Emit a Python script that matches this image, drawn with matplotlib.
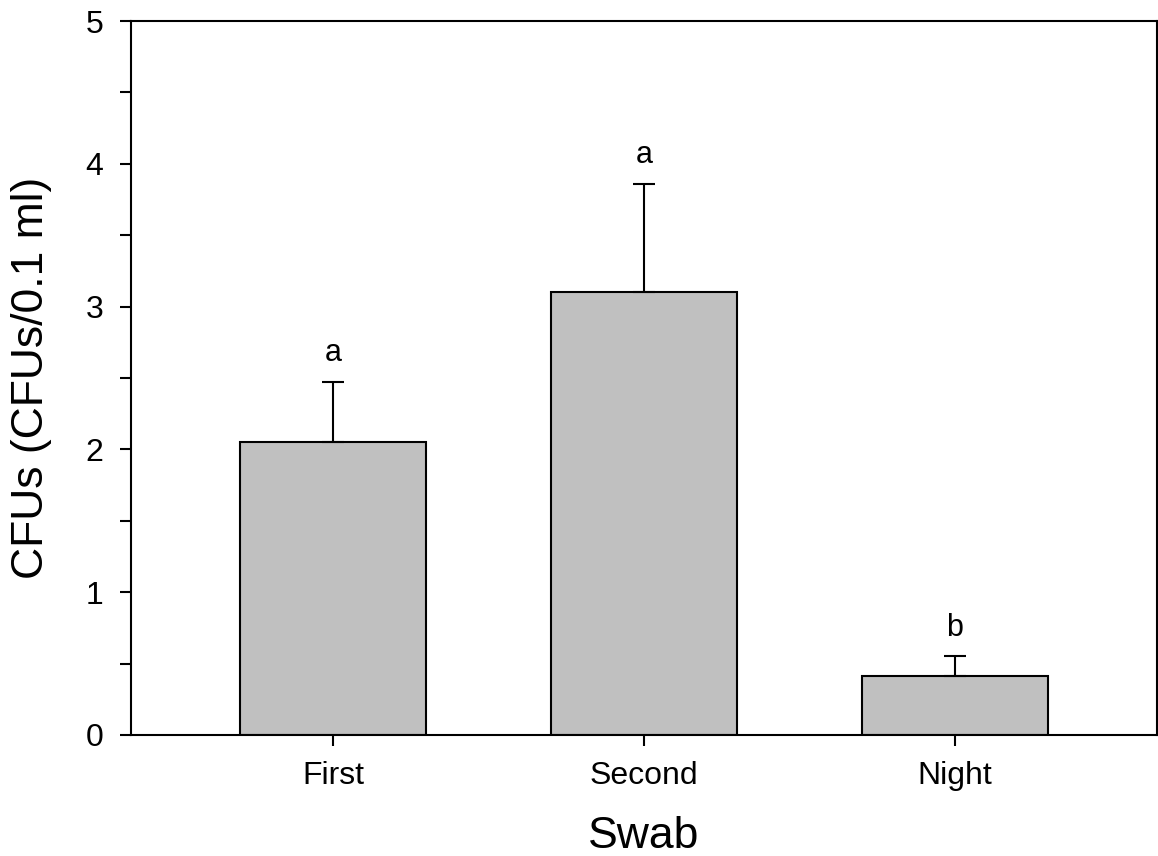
import matplotlib
matplotlib.use("Agg")
import matplotlib.pyplot as plt
from matplotlib.ticker import MultipleLocator

# swab counts: mean and standard error
swabs = ["First", "Second", "Night"]
means = [2.05, 3.10, 0.41]
sem = [0.42, 0.76, 0.14]
letters = ["a", "a", "b"]

plt.rcParams['font.family'] = ['Liberation Sans', 'DejaVu Sans']

fig = plt.figure(figsize=(11.58, 8.56), dpi=100)
ax = fig.add_axes([0.1131, 0.1414, 0.886, 0.834])

x = list(range(len(swabs)))
ax.bar(x, means, width=0.6, color='#c0c0c0', edgecolor='black', linewidth=1.5, zorder=2)
ax.errorbar(x, means, yerr=[[0] * len(sem), sem], fmt='none', ecolor='black',
            elinewidth=1.5, capsize=8, capthick=1.5, zorder=3)

# significance letters above the error bars
for xi, m, s, lab in zip(x, means, sem, letters):
    ax.annotate(lab, (xi, m + s), xytext=(0, 15), textcoords='offset points',
                ha='center', va='baseline', fontsize=22)

ax.set_xlim(-0.65, 2.65)
ax.set_ylim(0, 5)
ax.set_xticks(x)
ax.set_xticklabels(swabs)
ax.yaxis.set_major_locator(MultipleLocator(1))
ax.yaxis.set_minor_locator(MultipleLocator(0.5))

ax.tick_params(axis='both', which='both', direction='out', width=1.5, length=8,
               labelsize=23)
ax.tick_params(axis='y', pad=12)
ax.tick_params(axis='x', pad=11)
for sp in ax.spines.values():
    sp.set_linewidth(1.5)

ax.set_xlabel("Swab", fontsize=32)
ax.set_ylabel("CFUs (CFUs/0.1 ml)", fontsize=32)
ax.xaxis.set_label_coords(0.5, -0.114)
ax.yaxis.set_label_coords(-0.077, 0.5)

fig.savefig("out.png", dpi=100)
